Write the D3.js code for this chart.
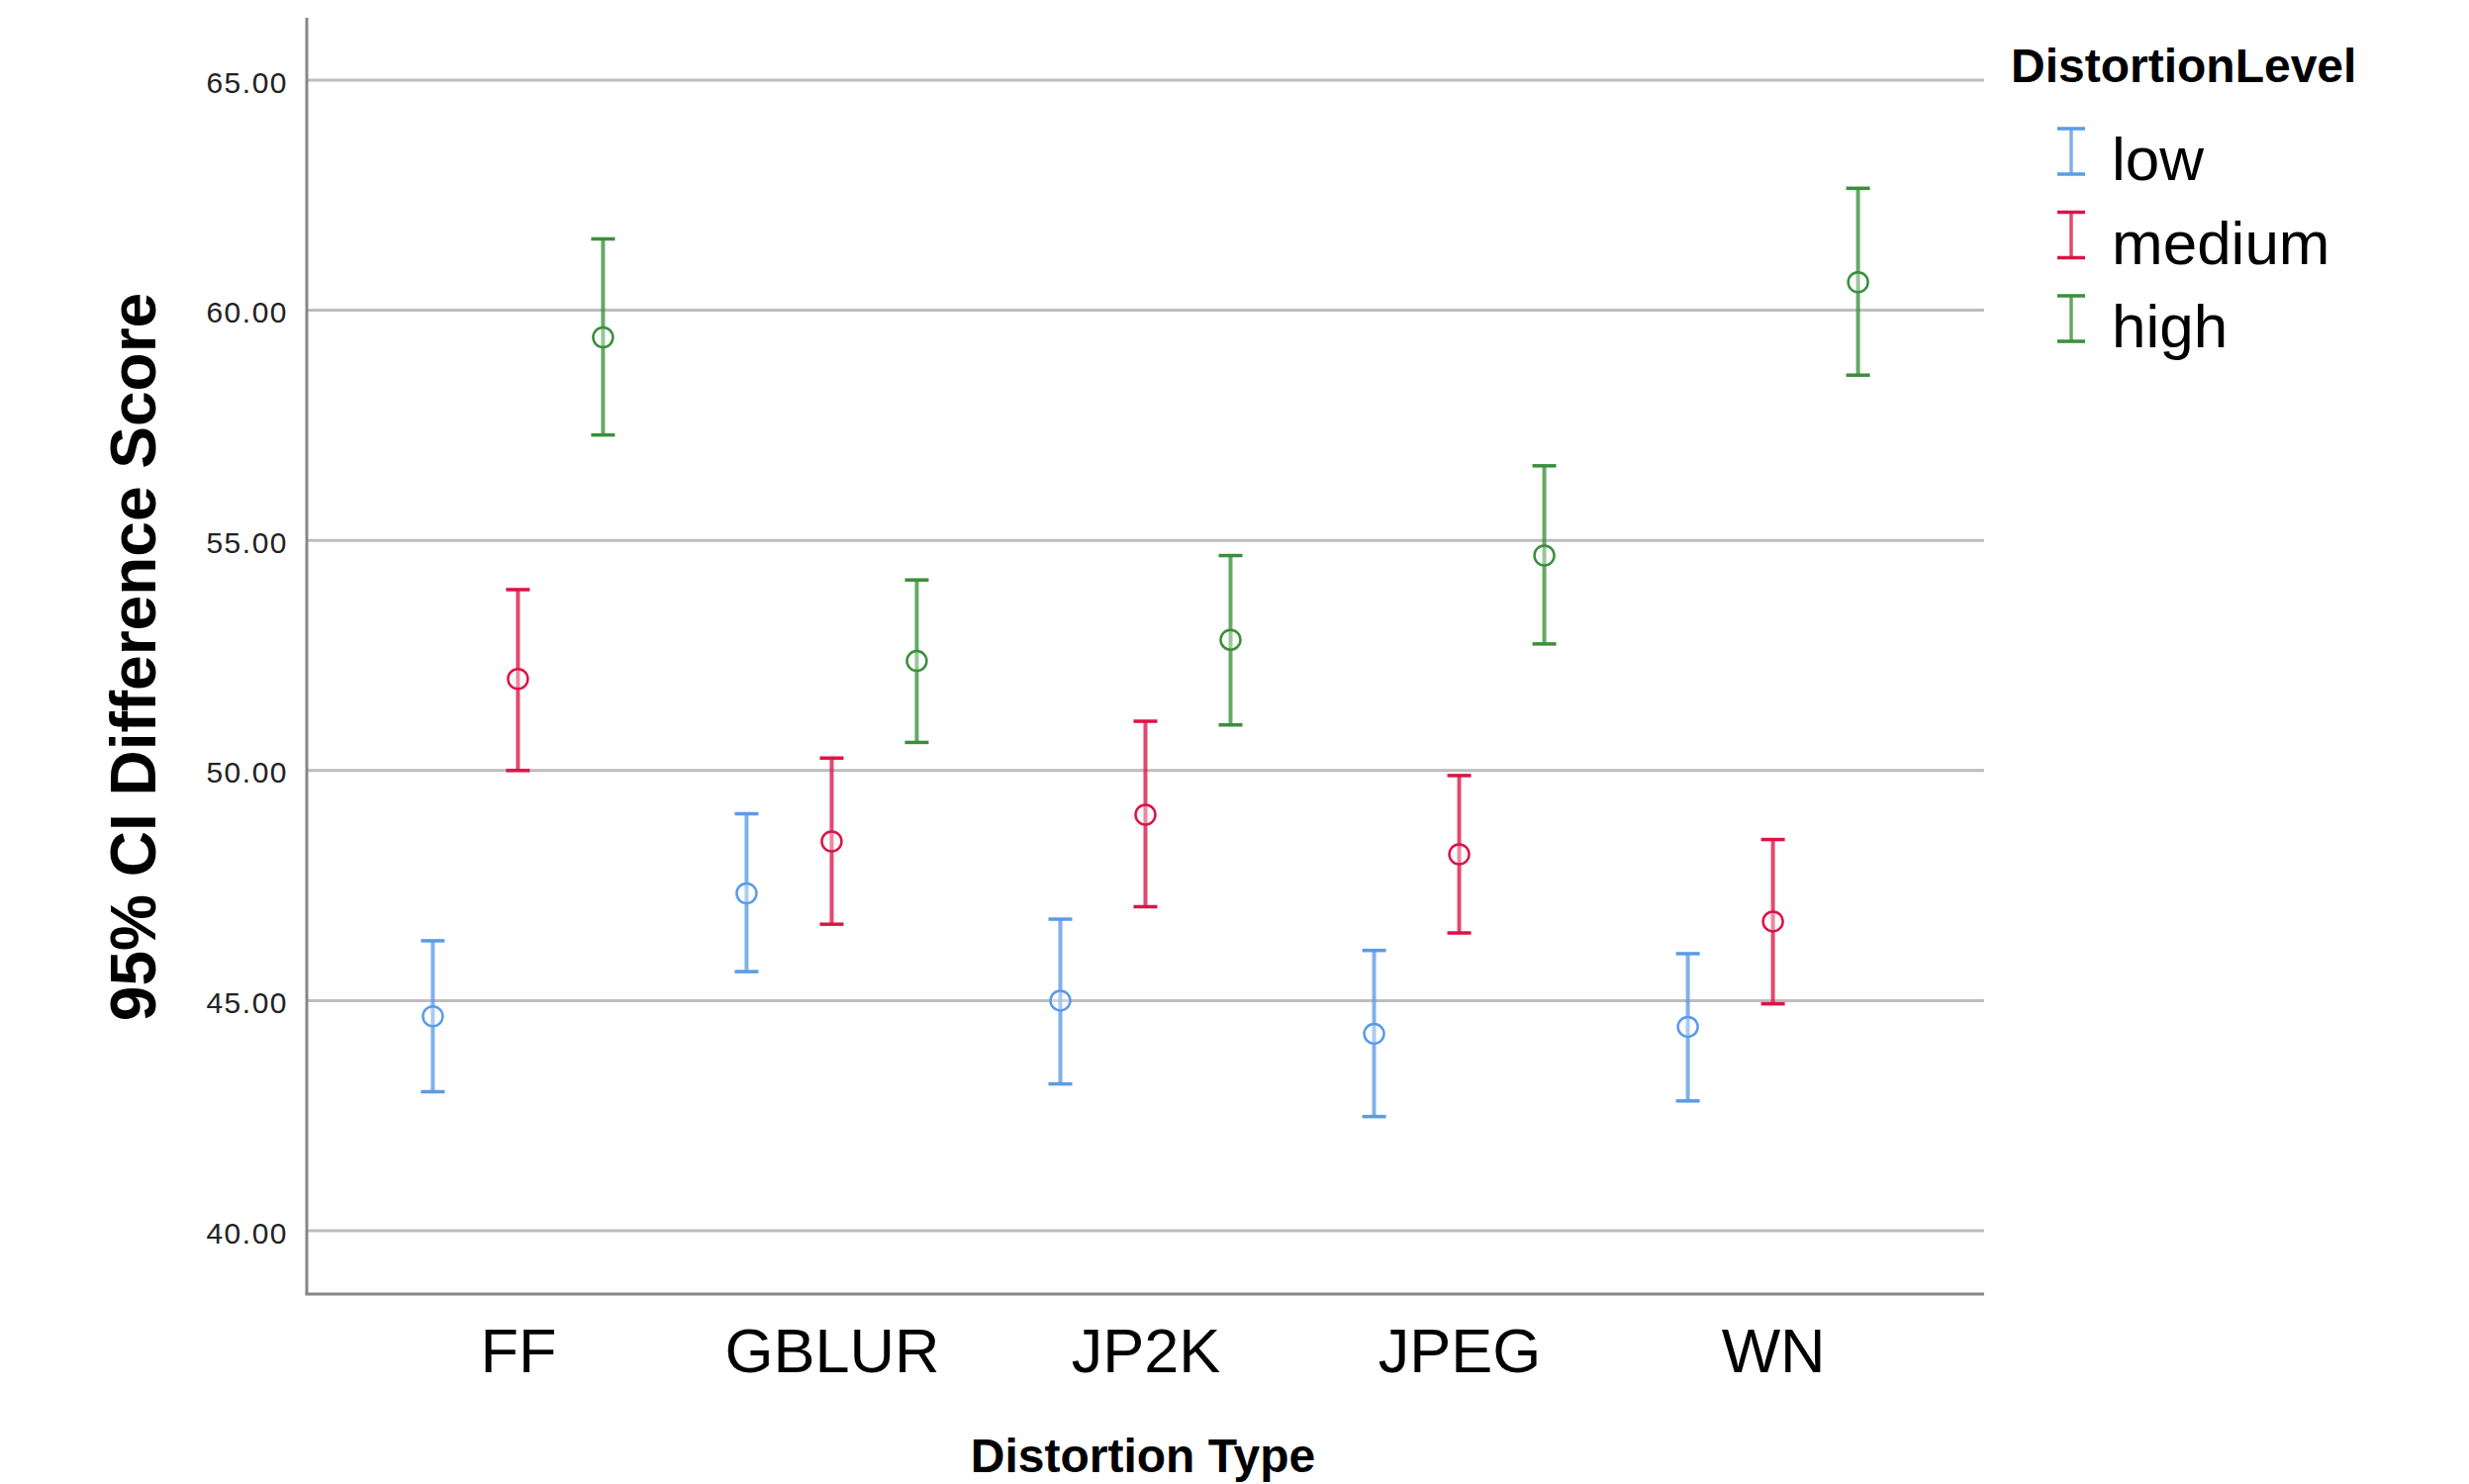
<!DOCTYPE html>
<html>
<head>
<meta charset="utf-8">
<script src="https://cdn.jsdelivr.net/npm/d3@7"></script>
<style>
    body { margin: 0; background: #fff; }
    svg { display: block; }
</style>
</head>
<body>
<div id="chart"></div>
<script>
// categories on the x axis and the grouping variable
var distortionTypes = ["FF", "GBLUR", "JP2K", "JPEG", "WN"];
var distortionLevels = ["low", "medium", "high"];

// mean and 95% CI bounds, one value per distortion type
var meanLow = [44.66, 47.33, 45.00, 44.28, 44.43];
var lowerLow = [43.02, 45.63, 43.19, 42.48, 42.82];
var upperLow = [46.30, 49.06, 46.77, 46.09, 46.02];

var meanMedium = [51.99, 48.46, 49.04, 48.18, 46.72];
var lowerMedium = [50.00, 46.66, 47.04, 46.47, 44.93];
var upperMedium = [53.93, 50.27, 51.07, 49.89, 48.50];

var meanHigh = [59.41, 52.38, 52.84, 54.67, 60.61];
var lowerHigh = [57.29, 50.61, 50.99, 52.75, 58.59];
var upperHigh = [61.55, 54.14, 54.67, 56.62, 62.65];

var yTicks = [40, 45, 50, 55, 60, 65];

var levelColors = ["#5b9be6", "#dc1447", "#3a8f3a"];

/**
 * Error bar chart, SPSS style
 * @param {string} _parentElement id of the div holding the chart
 */
function ErrorBarChart(_parentElement) {
    let self = this;
    self.parent = _parentElement;
    self.init();
}

ErrorBarChart.prototype.init = function() {
    let self = this;

    self.width = 2495;
    self.height = 1500;
    self.plot = {left: 310, right: 2005, top: 18, bottom: 1308};

    self.svg = d3.select("#" + self.parent).append("svg")
        .attr("width", self.width)
        .attr("height", self.height);

    self.x = d3.scalePoint()
        .domain(distortionTypes)
        .range([self.plot.left, self.plot.right])
        .padding(0.673);

    self.xOffset = d3.scalePoint()
        .domain(distortionLevels)
        .range([-86, 86]);

    self.y = d3.scaleLinear()
        .domain([40, 65])
        .range([1244, 81]);

    self.color = d3.scaleOrdinal()
        .domain(distortionLevels)
        .range(levelColors);

    // long format rows built from the arrays above
    let means = [meanLow, meanMedium, meanHigh];
    let lowers = [lowerLow, lowerMedium, lowerHigh];
    let uppers = [upperLow, upperMedium, upperHigh];
    self.displayData = [];
    distortionTypes.forEach(function(type, i) {
        distortionLevels.forEach(function(level, j) {
            self.displayData.push({
                type: type,
                level: level,
                mean: means[j][i],
                lower: lowers[j][i],
                upper: uppers[j][i]
            });
        });
    });

    self.updateVis();
}

ErrorBarChart.prototype.updateVis = function() {
    let self = this;

    // gridlines
    self.svg.append("g")
        .selectAll("line")
        .data(yTicks)
        .enter()
        .append("line")
            .attr("x1", self.plot.left)
            .attr("x2", self.plot.right)
            .attr("y1", function(d) { return self.y(d); })
            .attr("y2", function(d) { return self.y(d); })
            .attr("stroke", "#bdbdbd")
            .attr("stroke-width", 3);

    // y tick labels
    let yAxis = d3.axisLeft(self.y)
        .tickValues(yTicks)
        .tickSize(0)
        .tickPadding(19)
        .tickFormat(d3.format(".2f"));

    let yAxisG = self.svg.append("g")
        .attr("transform", "translate(" + self.plot.left + ",0)")
        .call(yAxis);
    yAxisG.select(".domain").remove();
    yAxisG.selectAll("text")
        .attr("dy", "0.4em")
        .attr("font-family", "Liberation Sans, Arial, sans-serif")
        .attr("font-size", "30px")
        .attr("letter-spacing", "1.5px")
        .attr("fill", "#222");

    // x category labels
    let xAxis = d3.axisBottom(self.x)
        .tickSize(0)
        .tickPadding(0);

    let xAxisG = self.svg.append("g")
        .attr("transform", "translate(0," + self.plot.bottom + ")")
        .call(xAxis);
    xAxisG.select(".domain").remove();
    xAxisG.selectAll("text")
        .attr("dy", null)
        .attr("y", 79)
        .attr("font-family", "Liberation Sans, Arial, sans-serif")
        .attr("font-size", "63px")
        .attr("fill", "#000");

    // axis lines
    self.svg.append("line")
        .attr("x1", self.plot.left)
        .attr("x2", self.plot.left)
        .attr("y1", self.plot.top)
        .attr("y2", self.plot.bottom)
        .attr("stroke", "#878787")
        .attr("stroke-width", 3);
    self.svg.append("line")
        .attr("x1", self.plot.left - 1.5)
        .attr("x2", self.plot.right)
        .attr("y1", self.plot.bottom)
        .attr("y2", self.plot.bottom)
        .attr("stroke", "#878787")
        .attr("stroke-width", 3);

    // error bars
    let bars = self.svg.append("g")
        .selectAll("g")
        .data(self.displayData)
        .enter()
        .append("g")
            .attr("class", "errorbar")
            .attr("transform", function(d) {
                return "translate(" + (self.x(d.type) + self.xOffset(d.level)) + ",0)";
            });

    bars.append("line")
        .attr("y1", function(d) { return self.y(d.upper); })
        .attr("y2", function(d) { return self.y(d.lower); })
        .attr("stroke", function(d) { return self.color(d.level); })
        .attr("stroke-opacity", 0.78)
        .attr("stroke-width", 4);

    bars.selectAll(".cap")
        .data(function(d) {
            return [d.upper, d.lower].map(function(v) { return {v: v, level: d.level}; });
        })
        .enter()
        .append("line")
            .attr("class", "cap")
            .attr("x1", -12)
            .attr("x2", 12)
            .attr("y1", function(d) { return self.y(d.v); })
            .attr("y2", function(d) { return self.y(d.v); })
            .attr("stroke", function(d) { return self.color(d.level); })
            .attr("stroke-width", 3.5);

    bars.append("circle")
        .attr("cy", function(d) { return self.y(d.mean); })
        .attr("r", 10)
        .attr("fill", "#fff")
        .attr("fill-opacity", 0.35)
        .attr("stroke", function(d) { return self.color(d.level); })
        .attr("stroke-width", 2.5);

    // axis titles
    self.svg.append("text")
        .attr("transform", "translate(157,664) rotate(-90)")
        .attr("text-anchor", "middle")
        .attr("font-family", "Liberation Sans, Arial, sans-serif")
        .attr("font-weight", "bold")
        .attr("font-size", "64px")
        .text("95% CI Difference Score");

    self.svg.append("text")
        .attr("x", 1155)
        .attr("y", 1488)
        .attr("text-anchor", "middle")
        .attr("font-family", "Liberation Sans, Arial, sans-serif")
        .attr("font-weight", "bold")
        .attr("font-size", "48px")
        .text("Distortion Type");

    // legend
    let legend = self.svg.append("g")
        .attr("class", "legend");

    legend.append("text")
        .attr("x", 2032)
        .attr("y", 83)
        .attr("font-family", "Liberation Sans, Arial, sans-serif")
        .attr("font-weight", "bold")
        .attr("font-size", "48px")
        .text("DistortionLevel");

    let items = legend.selectAll(".item")
        .data(distortionLevels)
        .enter()
        .append("g")
            .attr("class", "item")
            .attr("transform", function(d, i) { return "translate(2093," + (153 + i * 84.5) + ")"; });

    items.append("line")
        .attr("y1", -23)
        .attr("y2", 23)
        .attr("stroke", function(d) { return self.color(d); })
        .attr("stroke-opacity", 0.78)
        .attr("stroke-width", 3.5);

    items.selectAll(".cap")
        .data(function(d) { return [{y: -23, level: d}, {y: 23, level: d}]; })
        .enter()
        .append("line")
            .attr("class", "cap")
            .attr("x1", -14)
            .attr("x2", 14)
            .attr("y1", function(d) { return d.y; })
            .attr("y2", function(d) { return d.y; })
            .attr("stroke", function(d) { return self.color(d.level); })
            .attr("stroke-width", 3.5);

    items.append("text")
        .attr("x", 41)
        .attr("y", 29)
        .attr("font-family", "Liberation Sans, Arial, sans-serif")
        .attr("font-size", "62px")
        .text(function(d) { return d; });
}

var chart = new ErrorBarChart("chart");
</script>
</body>
</html>
